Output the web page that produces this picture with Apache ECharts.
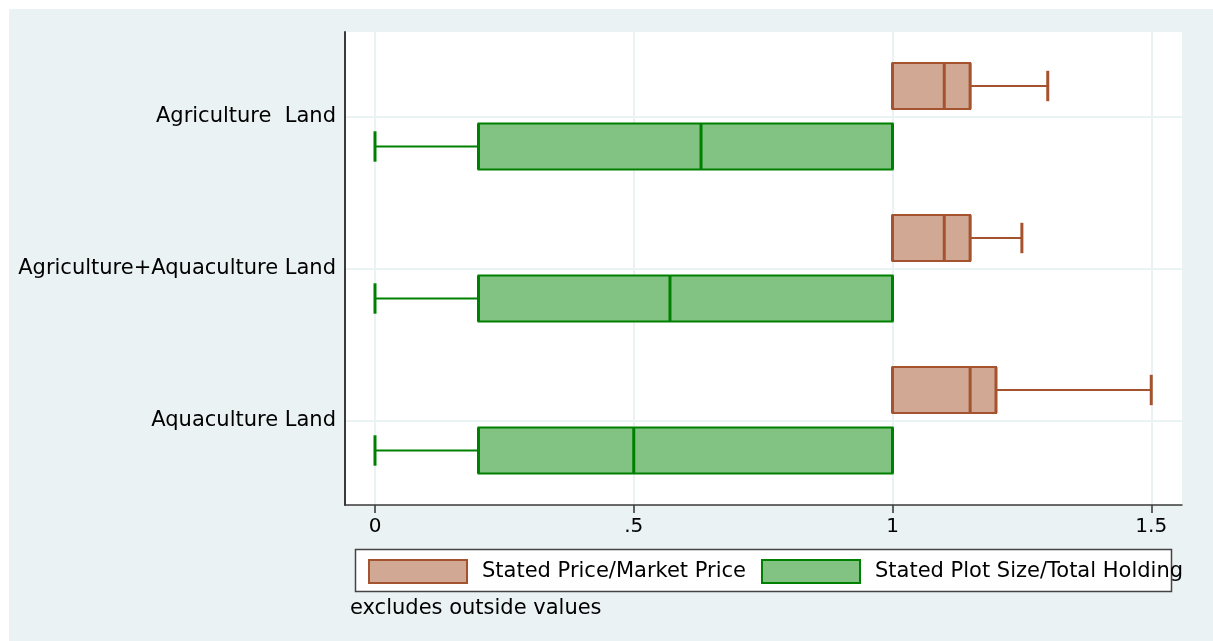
<!DOCTYPE html>
<html>
<head>
<meta charset="utf-8">
<script src="https://cdn.jsdelivr.net/npm/echarts@6/dist/echarts.min.js"></script>
<style>
html,body{margin:0;padding:0;background:#ffffff;}
#bg{position:absolute;left:9px;top:9px;right:0;bottom:0;background:#EAF2F3;}
#chart{position:absolute;left:0;top:0;width:1213px;height:641px;}
</style>
</head>
<body>
<div id="bg"></div>
<div id="chart"></div>
<script>
// ---- data ----
const categories = ['Agriculture  Land', 'Agriculture+Aquaculture Land', 'Aquaculture Land'];
const seriesNames = ['Stated Price/Market Price', 'Stated Plot Size/Total Holding'];
// [min whisker, q1, median, q3, max whisker]
const priceStats = [
  [1.00, 1.00, 1.10, 1.15, 1.30],
  [1.00, 1.00, 1.10, 1.15, 1.25],
  [1.00, 1.00, 1.15, 1.20, 1.50]
];
const plotStats = [
  [0.00, 0.20, 0.63, 1.00, 1.00],
  [0.00, 0.20, 0.57, 1.00, 1.00],
  [0.00, 0.20, 0.50, 1.00, 1.00]
];
const xTickValues = [0, 0.5, 1, 1.5];
const xTickLabels = ['0', '.5', '1', '1.5'];
const note = 'excludes outside values';

// ---- styles ----
const FONT = 'DejaVu Sans';
const priceFill = '#D0A894', priceStroke = '#A5532F';
const plotFill = '#82C282', plotStroke = '#008000';
const gridLineColor = '#EAF2F3';

function makeRender(offset, fill, stroke) {
  return function (params, api) {
    const yi = api.value(0);
    const unit = api.size([0, 1])[1];
    const cy = api.coord([0, yi])[1] + offset * unit;
    const halfH = 0.151 * unit, capH = 0.1 * unit;
    const px = v => api.coord([v, yi])[0];
    const xMin = px(api.value(1)), xQ1 = px(api.value(2)), xMed = px(api.value(3)),
          xQ3 = px(api.value(4)), xMax = px(api.value(5));
    const children = [];
    if (xMin < xQ1) {
      children.push({type:'line', shape:{x1:xMin,y1:cy,x2:xQ1,y2:cy}, style:{stroke:stroke,lineWidth:2}});
      children.push({type:'line', shape:{x1:xMin,y1:cy-capH,x2:xMin,y2:cy+capH}, style:{stroke:stroke,lineWidth:3}});
    }
    if (xMax > xQ3) {
      children.push({type:'line', shape:{x1:xQ3,y1:cy,x2:xMax,y2:cy}, style:{stroke:stroke,lineWidth:2}});
      children.push({type:'line', shape:{x1:xMax,y1:cy-capH,x2:xMax,y2:cy+capH}, style:{stroke:stroke,lineWidth:3}});
    }
    children.push({type:'rect', shape:{x:xQ1,y:cy-halfH,width:xQ3-xQ1,height:2*halfH},
      style:{fill:fill,stroke:stroke,lineWidth:2}});
    children.push({type:'line', shape:{x1:xQ1,y1:cy-halfH,x2:xQ1,y2:cy+halfH}, style:{stroke:stroke,lineWidth:3}});
    children.push({type:'line', shape:{x1:xQ3,y1:cy-halfH,x2:xQ3,y2:cy+halfH}, style:{stroke:stroke,lineWidth:3}});
    children.push({type:'line', shape:{x1:xMed,y1:cy-halfH,x2:xMed,y2:cy+halfH}, style:{stroke:stroke,lineWidth:3}});
    return {type:'group', children:children};
  };
}

const priceData = priceStats.map((s, i) => [i].concat(s));
const plotData = plotStats.map((s, i) => [i].concat(s));

const chart = echarts.init(document.getElementById('chart'), null, {renderer:'canvas'});
chart.setOption({
  backgroundColor: 'transparent',
  animation: false,
  textStyle: {fontFamily: FONT},
  grid: [
    {left:345, top:32, width:837, height:473, show:true, backgroundColor:'#ffffff', borderWidth:0},
    {left:375, top:32, width:776.25, height:473},
    {left:345, top:117, width:837, height:304},
    {left:375, top:505, width:776.25, height:8}
  ],
  xAxis: [
    {gridIndex:0, type:'value', min:0, max:1, axisLine:{show:true,onZero:false,lineStyle:{color:'#3a3a3a',width:1.5}},
     axisTick:{show:false}, axisLabel:{show:false}, splitLine:{show:false}},
    {gridIndex:1, type:'value', min:0, max:1.5, interval:0.5, position:'bottom',
     axisLine:{show:false, onZero:false}, axisTick:{show:false},
     axisLabel:{show:true, fontSize:20, color:'#000', margin:12, fontFamily:FONT,
       formatter: v => { const k = xTickValues.indexOf(v); return k >= 0 ? xTickLabels[k] : ''; }},
     splitLine:{show:true, lineStyle:{color:gridLineColor, width:2}}},
    {gridIndex:2, type:'value', show:false, axisLine:{onZero:false}},
    // tick marks below the axis line
    {gridIndex:3, type:'value', min:0, max:1.5, interval:0.5,
     axisLine:{show:false, onZero:false}, axisTick:{show:false}, axisLabel:{show:false},
     splitLine:{show:true, lineStyle:{color:'#333', width:1.5}}}
  ],
  yAxis: [
    {gridIndex:0, type:'value', min:0, max:1, axisLine:{show:true,onZero:false,lineStyle:{color:'#3a3a3a',width:2}},
     axisTick:{show:false}, axisLabel:{show:false}, splitLine:{show:false}},
    {gridIndex:1, type:'value', min:-0.5592, max:2.5526, inverse:true, show:false, axisLine:{onZero:false}, splitLine:{show:false}},
    {gridIndex:2, type:'category', data:categories, inverse:true, boundaryGap:false,
     axisLine:{show:false, onZero:false}, axisTick:{show:false},
     axisLabel:{fontSize:21, color:'#000', margin:9, fontFamily:FONT},
     splitLine:{show:true, lineStyle:{color:gridLineColor, width:2}}},
    {gridIndex:3, type:'value', show:false, axisLine:{onZero:false}, splitLine:{show:false}}
  ],
  legend: [
    {left:368, top:559, padding:0, itemWidth:98, itemHeight:23, selectedMode:false,
     textStyle:{fontSize:21, color:'#000', fontFamily:FONT, padding:[0,0,0,10]},
     data:[{name:seriesNames[0], icon:'rect', itemStyle:{color:priceFill, borderColor:priceStroke, borderWidth:2}}]},
    {left:761, top:559, padding:0, itemWidth:98, itemHeight:23, selectedMode:false,
     textStyle:{fontSize:21, color:'#000', fontFamily:FONT, padding:[0,0,0,10]},
     data:[{name:seriesNames[1], icon:'rect', itemStyle:{color:plotFill, borderColor:plotStroke, borderWidth:2}}]}
  ],
  graphic: [
    {type:'rect', z:-1, shape:{x:355.5, y:549.5, width:816, height:42},
     style:{fill:'#ffffff', stroke:'#444', lineWidth:1.5}},
    {type:'text', left:350, top:598, style:{text:note, font:'21px "DejaVu Sans"', fill:'#000'}}
  ],
  series: [
    {name:seriesNames[0], type:'custom', xAxisIndex:1, yAxisIndex:1, data:priceData,
     itemStyle:{color:priceFill, borderColor:priceStroke},
     encode:{x:[1,2,3,4,5], y:0}, renderItem: makeRender(-0.204, priceFill, priceStroke)},
    {name:seriesNames[1], type:'custom', xAxisIndex:1, yAxisIndex:1, data:plotData,
     itemStyle:{color:plotFill, borderColor:plotStroke},
     encode:{x:[1,2,3,4,5], y:0}, renderItem: makeRender(0.194, plotFill, plotStroke)}
  ]
});
</script>
</body>
</html>
